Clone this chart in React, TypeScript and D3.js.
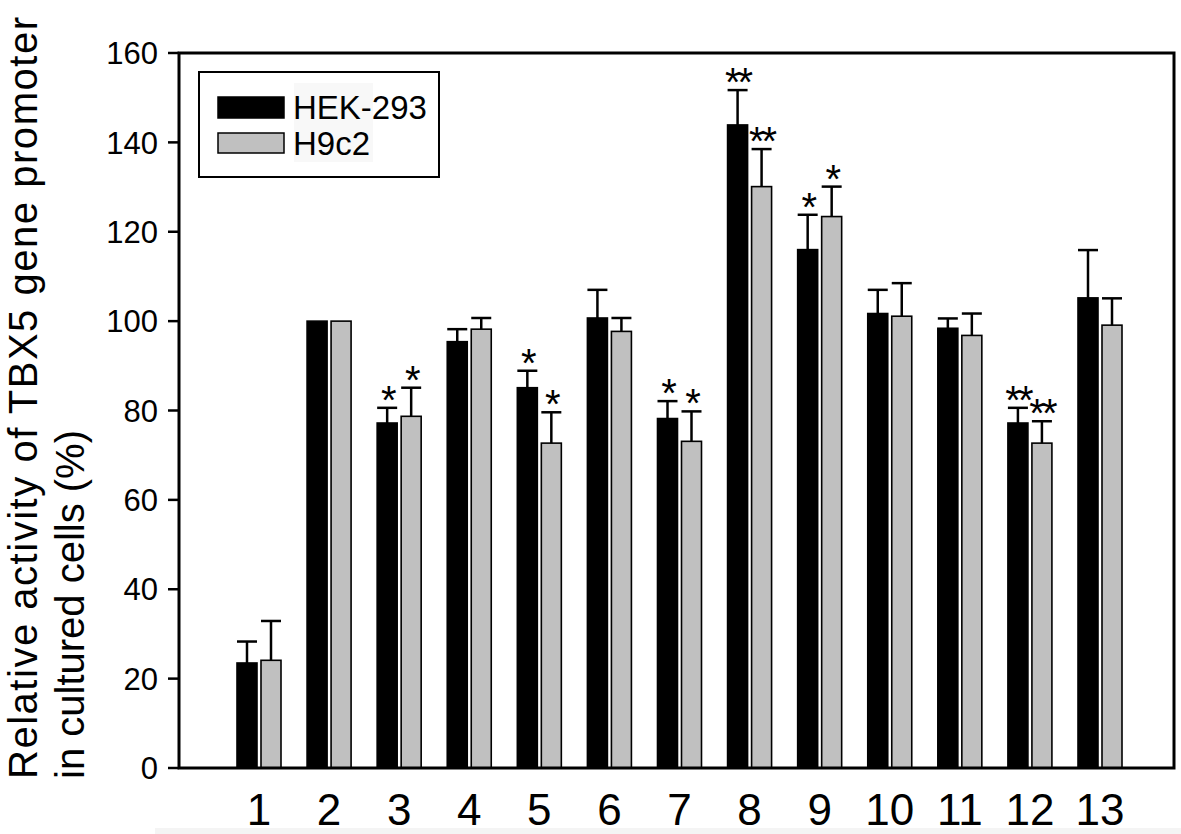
import React from "react";
import * as d3 from "d3";

const categories = ["1", "2", "3", "4", "5", "6", "7", "8", "9", "10", "11", "12", "13"];
const hekValues = [23.5, 100, 77.2, 95.4, 85.1, 100.7, 78.2, 143.9, 116.0, 101.7, 98.4, 77.2, 105.2];
const hekErrors = [4.8, 0, 3.4, 2.8, 3.8, 6.3, 3.9, 7.8, 7.8, 5.3, 2.2, 3.4, 10.7];
const h9Values = [24.1, 100, 78.7, 98.2, 72.7, 97.7, 73.1, 130.1, 123.4, 101.1, 96.8, 72.7, 99.1];
const h9Errors = [8.8, 0, 6.4, 2.5, 6.9, 3.0, 6.7, 8.4, 6.7, 7.4, 4.9, 4.9, 6.0];
const hekStars = ["", "", "*", "", "*", "", "*", "**", "*", "", "", "**", ""];
const h9Stars = ["", "", "*", "", "*", "", "*", "**", "*", "", "", "**", ""];
const yTicks = [0, 20, 40, 60, 80, 100, 120, 140, 160];
const seriesNames = ["HEK-293", "H9c2"];
const yTitleLines = ["Relative activity of  TBX5 gene promoter", "in cultured cells (%)"];

const FONT = "'Liberation Sans', Arial, Helvetica, sans-serif";
const GRAY = "#c0c0c0";

export default function App() {
  const left = 179, right = 1174, top = 53, bottom = 768;
  const x = d3.scalePoint<string>().domain(categories).range([259, 1100]);
  const y = d3.scaleLinear().domain([0, 160]).range([bottom, top]);
  const barW = 20;

  const series = [
    { values: hekValues, errors: hekErrors, stars: hekStars, fill: "#000", off: -22 },
    { values: h9Values, errors: h9Errors, stars: h9Stars, fill: GRAY, off: 2 },
  ];

  return (
    <svg
      width={1181}
      height={834}
      style={{ position: "absolute", left: 0, top: 0, background: "#fff" }}
      fontFamily={FONT}
    >
      <rect x={0} y={0} width={1181} height={834} fill="#fff" />
      <rect x={155} y={828} width={1026} height={6} fill="#f4f4f4" />

      {/* bars */}
      {series.map((s, si) =>
        categories.map((c, i) => {
          const cx = (x(c) as number) + s.off;
          const v = s.values[i];
          const e = s.errors[i];
          const mid = cx + barW / 2;
          return (
            <g key={`b${si}-${i}`}>
              {e > 0 && (
                <g stroke="#000" strokeWidth={2.5}>
                  <line x1={mid} x2={mid} y1={y(v)} y2={y(v + e)} />
                  <line x1={mid - 10} x2={mid + 10} y1={y(v + e)} y2={y(v + e)} />
                </g>
              )}
              <rect
                x={cx}
                y={y(v)}
                width={barW}
                height={y(0) - y(v)}
                fill={s.fill}
                stroke="#000"
                strokeWidth={1.6}
              />
              {s.stars[i] && (
                <text
                  x={mid}
                  y={y(v + e) + 6}
                  textAnchor="middle"
                  fontSize={40}
                  fill="#000"
                  letterSpacing={-3}
                >
                  {s.stars[i]}
                </text>
              )}
            </g>
          );
        })
      )}

      {/* frame */}
      <rect x={left} y={top} width={right - left} height={bottom - top} fill="none" stroke="#000" strokeWidth={3} />

      {/* y ticks */}
      {yTicks.map((t) => (
        <g key={`t${t}`}>
          <line x1={168} x2={left} y1={y(t)} y2={y(t)} stroke="#000" strokeWidth={2.5} />
          <text x={158} y={y(t)} dy="0.36em" textAnchor="end" fontSize={31} fill="#000">
            {t}
          </text>
        </g>
      ))}

      {/* x labels */}
      {categories.map((c) => (
        <text key={`x${c}`} x={x(c) as number} y={825} textAnchor="middle" fontSize={44} fill="#000">
          {c}
        </text>
      ))}

      {/* y title */}
      {yTitleLines.map((line, i) => (
        <text
          key={`yt${i}`}
          transform={`translate(${37 + i * 47}, 779) rotate(-90)`}
          fontSize={40}
          fill="#000"
          textLength={i === 0 ? 762 : undefined}
          lengthAdjust="spacing"
        >
          {line}
        </text>
      ))}

      {/* legend */}
      <rect x={199} y={72} width={240} height={105} fill="#fff" stroke="#000" strokeWidth={2} />
      <rect x={294} y={83} width={79} height={79} fill="#f8f8f8" />
      <rect x={218} y={97} width={66} height={21} fill="#000" stroke="#000" strokeWidth={1.5} />
      <rect x={218} y={133} width={66} height={20} fill={GRAY} stroke="#000" strokeWidth={1.5} />
      <text x={293} y={119} fontSize={33} fill="#000">{seriesNames[0]}</text>
      <text x={293} y={155} fontSize={33} fill="#000">{seriesNames[1]}</text>
    </svg>
  );
}
